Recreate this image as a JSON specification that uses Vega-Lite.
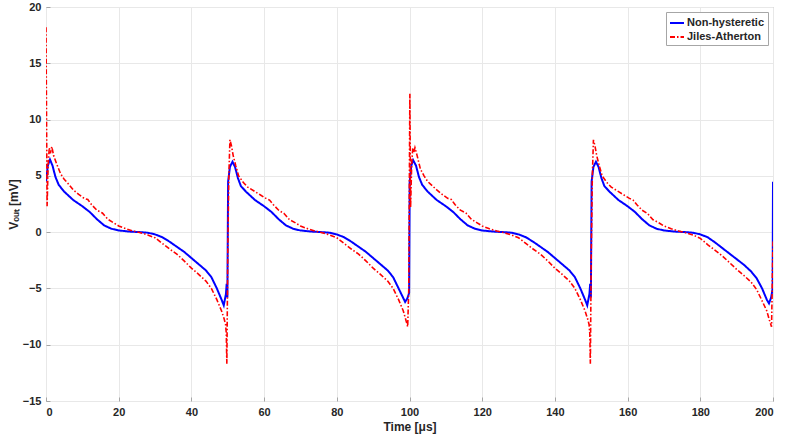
{
  "$schema": "https://vega.github.io/schema/vega-lite/v6.json",
  "description": "Output voltage of the non-hysteretic and Jiles-Atherton models over 200 microseconds.",
  "width": 727,
  "height": 394,
  "autosize": {"type": "none"},
  "padding": {"left": 46, "top": 7, "right": 14, "bottom": 40},
  "background": "white",
  "config": {
    "font": "Liberation Sans",
    "view": {"stroke": "#a6a6a6", "strokeWidth": 1},
    "axis": {
      "domain": false,
      "grid": true,
      "gridColor": "#e8e8e8",
      "gridWidth": 1,
      "ticks": true,
      "tickColor": "#a6a6a6",
      "tickSize": -4,
      "labelFont": "Liberation Sans",
      "labelFontSize": 11,
      "labelFontWeight": "bold",
      "labelColor": "#262626",
      "titleFont": "Liberation Sans",
      "titleFontSize": 12,
      "titleFontWeight": "bold",
      "titleColor": "#262626"
    },
    "legend": {
      "orient": "top-right",
      "offset": 5,
      "title": null,
      "fillColor": "white",
      "strokeColor": "#a6a6a6",
      "padding": 3,
      "rowPadding": 1,
      "labelFont": "Liberation Sans",
      "labelFontSize": 11,
      "labelFontWeight": "bold",
      "labelColor": "#262626",
      "symbolType": "stroke",
      "symbolSize": 196,
      "symbolStrokeWidth": 1.8,
      "labelOffset": 2
    }
  },
  "datasets": {
    "nonhyst": [
      {"t": 0, "v": 4.5}, {"t": 0.5, "v": 5.9}, {"t": 1.1, "v": 6.45}, {"t": 1.8, "v": 5.9},
      {"t": 2.6, "v": 4.9}, {"t": 3.5, "v": 4.2}, {"t": 5, "v": 3.6}, {"t": 7.5, "v": 2.85},
      {"t": 10, "v": 2.3}, {"t": 12, "v": 1.8}, {"t": 14, "v": 1.15}, {"t": 16, "v": 0.6},
      {"t": 18, "v": 0.3}, {"t": 20, "v": 0.15}, {"t": 23, "v": 0.05}, {"t": 26, "v": 0},
      {"t": 28, "v": -0.05}, {"t": 30, "v": -0.2}, {"t": 32, "v": -0.45}, {"t": 34, "v": -0.85},
      {"t": 36, "v": -1.3}, {"t": 38, "v": -1.75}, {"t": 40, "v": -2.3}, {"t": 42, "v": -2.85},
      {"t": 44, "v": -3.4}, {"t": 45.5, "v": -4.0}, {"t": 47, "v": -5.0}, {"t": 48.3, "v": -6.0},
      {"t": 48.9, "v": -6.5}, {"t": 49.5, "v": -5.5}, {"t": 49.7, "v": -4.6}, {"t": 49.9, "v": -5.8},
      {"t": 50.1, "v": 4.5}, {"t": 50.6, "v": 5.8}, {"t": 51.3, "v": 6.25}, {"t": 52, "v": 5.8},
      {"t": 52.8, "v": 4.8}, {"t": 53.6, "v": 4.1}, {"t": 55, "v": 3.6}, {"t": 57.5, "v": 2.85},
      {"t": 60, "v": 2.3}, {"t": 62, "v": 1.8}, {"t": 64, "v": 1.15}, {"t": 66, "v": 0.6},
      {"t": 68, "v": 0.3}, {"t": 70, "v": 0.15}, {"t": 73, "v": 0.05}, {"t": 76, "v": 0},
      {"t": 78, "v": -0.05}, {"t": 80, "v": -0.2}, {"t": 82, "v": -0.45}, {"t": 84, "v": -0.85},
      {"t": 86, "v": -1.3}, {"t": 88, "v": -1.75}, {"t": 90, "v": -2.3}, {"t": 92, "v": -2.85},
      {"t": 94, "v": -3.4}, {"t": 95.5, "v": -4.0}, {"t": 97, "v": -5.0}, {"t": 98.2, "v": -5.8},
      {"t": 98.8, "v": -6.2}, {"t": 99.4, "v": -5.9}, {"t": 99.9, "v": -5.4},
      {"t": 100.05, "v": 4.5}, {"t": 100.5, "v": 5.9}, {"t": 101.0, "v": 6.4}, {"t": 101.8, "v": 5.9},
      {"t": 102.6, "v": 4.9}, {"t": 103.5, "v": 4.2}, {"t": 105, "v": 3.6}, {"t": 107.5, "v": 2.85},
      {"t": 110, "v": 2.3}, {"t": 112, "v": 1.8}, {"t": 114, "v": 1.15}, {"t": 116, "v": 0.6},
      {"t": 118, "v": 0.3}, {"t": 120, "v": 0.15}, {"t": 123, "v": 0.05}, {"t": 126, "v": 0},
      {"t": 128, "v": -0.05}, {"t": 130, "v": -0.2}, {"t": 132, "v": -0.45}, {"t": 134, "v": -0.85},
      {"t": 136, "v": -1.3}, {"t": 138, "v": -1.75}, {"t": 140, "v": -2.3}, {"t": 142, "v": -2.85},
      {"t": 144, "v": -3.4}, {"t": 145.5, "v": -4.0}, {"t": 147, "v": -5.0}, {"t": 148.3, "v": -6.0},
      {"t": 148.9, "v": -6.5}, {"t": 149.5, "v": -5.5}, {"t": 149.7, "v": -4.6}, {"t": 149.9, "v": -5.8},
      {"t": 150.1, "v": 4.5}, {"t": 150.6, "v": 5.8}, {"t": 151.3, "v": 6.25}, {"t": 152, "v": 5.8},
      {"t": 152.8, "v": 4.8}, {"t": 153.6, "v": 4.1}, {"t": 155, "v": 3.6}, {"t": 157.5, "v": 2.85},
      {"t": 160, "v": 2.3}, {"t": 162, "v": 1.8}, {"t": 164, "v": 1.15}, {"t": 166, "v": 0.6},
      {"t": 168, "v": 0.3}, {"t": 170, "v": 0.15}, {"t": 173, "v": 0.05}, {"t": 176, "v": 0},
      {"t": 178, "v": -0.05}, {"t": 180, "v": -0.2}, {"t": 182, "v": -0.45}, {"t": 184, "v": -0.9},
      {"t": 186, "v": -1.4}, {"t": 188, "v": -1.9}, {"t": 190, "v": -2.4}, {"t": 192, "v": -2.9},
      {"t": 194, "v": -3.5}, {"t": 195.5, "v": -4.1}, {"t": 197, "v": -5.0}, {"t": 198.3, "v": -6.0},
      {"t": 198.9, "v": -6.33}, {"t": 199.5, "v": -5.8}, {"t": 199.9, "v": -5.0}, {"t": 200, "v": 4.47}
    ],
    "jiles": [
      {"t": 0, "v": 18.2}, {"t": 0.15, "v": 10}, {"t": 0.3, "v": 2.3}, {"t": 0.6, "v": 6.0},
      {"t": 0.9, "v": 7.5}, {"t": 1.2, "v": 7.0}, {"t": 1.6, "v": 7.6}, {"t": 2.1, "v": 6.8},
      {"t": 3, "v": 6.0}, {"t": 4, "v": 5.2}, {"t": 5, "v": 4.7}, {"t": 6, "v": 4.35},
      {"t": 7.5, "v": 3.75}, {"t": 9, "v": 3.35}, {"t": 10.5, "v": 3.0}, {"t": 11.5, "v": 2.9},
      {"t": 12.5, "v": 2.45}, {"t": 14, "v": 1.95}, {"t": 15.5, "v": 1.7}, {"t": 17, "v": 1.15},
      {"t": 18.5, "v": 0.85}, {"t": 20, "v": 0.55}, {"t": 22, "v": 0.3}, {"t": 24, "v": 0.1},
      {"t": 26, "v": -0.05}, {"t": 28, "v": -0.25}, {"t": 30, "v": -0.5}, {"t": 32, "v": -1.0},
      {"t": 34, "v": -1.5}, {"t": 36, "v": -1.95}, {"t": 38, "v": -2.55}, {"t": 40, "v": -3.2},
      {"t": 42, "v": -3.75}, {"t": 44, "v": -4.35}, {"t": 45.5, "v": -5.0}, {"t": 47, "v": -6.0},
      {"t": 48.3, "v": -7.0}, {"t": 49, "v": -7.7}, {"t": 49.4, "v": -8.2}, {"t": 49.6, "v": -9.0},
      {"t": 49.75, "v": -11.7}, {"t": 49.85, "v": -8.0},
      {"t": 50.0, "v": -2.0}, {"t": 50.3, "v": 5.0}, {"t": 50.6, "v": 8.2}, {"t": 51.0, "v": 7.7},
      {"t": 51.5, "v": 6.8}, {"t": 52.2, "v": 5.9}, {"t": 53, "v": 5.0}, {"t": 54.3, "v": 4.4},
      {"t": 55.5, "v": 4.0}, {"t": 57.5, "v": 3.6}, {"t": 59, "v": 3.3}, {"t": 60.5, "v": 3.0},
      {"t": 61.5, "v": 2.85}, {"t": 62.5, "v": 2.45}, {"t": 64, "v": 1.95}, {"t": 65.5, "v": 1.65},
      {"t": 67, "v": 1.1}, {"t": 68.5, "v": 0.85}, {"t": 70, "v": 0.55}, {"t": 72, "v": 0.3},
      {"t": 74, "v": 0.1}, {"t": 76, "v": -0.05}, {"t": 78, "v": -0.25}, {"t": 80, "v": -0.5},
      {"t": 82, "v": -1.0}, {"t": 84, "v": -1.5}, {"t": 86, "v": -1.95}, {"t": 88, "v": -2.55},
      {"t": 90, "v": -3.2}, {"t": 92, "v": -3.75}, {"t": 94, "v": -4.35}, {"t": 95.5, "v": -5.0},
      {"t": 97, "v": -6.0}, {"t": 98.3, "v": -7.0}, {"t": 99, "v": -7.8}, {"t": 99.5, "v": -8.4},
      {"t": 99.8, "v": -5.0},
      {"t": 100.1, "v": 12.3}, {"t": 100.2, "v": 7.0}, {"t": 100.3, "v": 2.2}, {"t": 100.6, "v": 6.0},
      {"t": 100.9, "v": 7.5}, {"t": 101.2, "v": 7.1}, {"t": 101.5, "v": 7.5}, {"t": 102.1, "v": 6.8},
      {"t": 103, "v": 5.6}, {"t": 104, "v": 5.0}, {"t": 105, "v": 4.5}, {"t": 106, "v": 4.2},
      {"t": 107.5, "v": 3.75}, {"t": 109, "v": 3.35}, {"t": 110.5, "v": 3.0}, {"t": 111.5, "v": 2.9},
      {"t": 112.5, "v": 2.45}, {"t": 114, "v": 1.95}, {"t": 115.5, "v": 1.7}, {"t": 117, "v": 1.15},
      {"t": 118.5, "v": 0.85}, {"t": 120, "v": 0.55}, {"t": 122, "v": 0.3}, {"t": 124, "v": 0.1},
      {"t": 126, "v": -0.05}, {"t": 128, "v": -0.25}, {"t": 130, "v": -0.5}, {"t": 132, "v": -1.0},
      {"t": 134, "v": -1.5}, {"t": 136, "v": -1.95}, {"t": 138, "v": -2.55}, {"t": 140, "v": -3.2},
      {"t": 142, "v": -3.75}, {"t": 144, "v": -4.35}, {"t": 145.5, "v": -5.0}, {"t": 147, "v": -6.0},
      {"t": 148.3, "v": -7.0}, {"t": 149, "v": -7.7}, {"t": 149.4, "v": -8.2}, {"t": 149.6, "v": -9.0},
      {"t": 149.75, "v": -11.7}, {"t": 149.85, "v": -8.0},
      {"t": 150.0, "v": -2.0}, {"t": 150.3, "v": 5.0}, {"t": 150.6, "v": 8.2}, {"t": 151.0, "v": 7.7},
      {"t": 151.5, "v": 6.8}, {"t": 152.2, "v": 5.9}, {"t": 153, "v": 5.0}, {"t": 154.3, "v": 4.4},
      {"t": 155.5, "v": 4.0}, {"t": 157.5, "v": 3.6}, {"t": 159, "v": 3.3}, {"t": 160.5, "v": 3.0},
      {"t": 161.5, "v": 2.85}, {"t": 162.5, "v": 2.45}, {"t": 164, "v": 1.95}, {"t": 165.5, "v": 1.65},
      {"t": 167, "v": 1.1}, {"t": 168.5, "v": 0.85}, {"t": 170, "v": 0.55}, {"t": 172, "v": 0.3},
      {"t": 174, "v": 0.1}, {"t": 176, "v": -0.05}, {"t": 178, "v": -0.25}, {"t": 180, "v": -0.55},
      {"t": 182, "v": -1.1}, {"t": 184, "v": -1.6}, {"t": 186, "v": -2.1}, {"t": 188, "v": -2.7},
      {"t": 190, "v": -3.3}, {"t": 192, "v": -3.85}, {"t": 194, "v": -4.45}, {"t": 195.5, "v": -5.1},
      {"t": 197, "v": -6.1}, {"t": 198.3, "v": -7.0}, {"t": 199, "v": -7.8}, {"t": 199.6, "v": -8.4},
      {"t": 200, "v": -0.7}
    ]
  },
  "encoding": {
    "x": {
      "field": "t",
      "type": "quantitative",
      "title": "Time [μs]",
      "scale": {"domain": [0, 200], "nice": false},
      "axis": {"values": [0, 20, 40, 60, 80, 100, 120, 140, 160, 180, 200], "labelPadding": 9, "titlePadding": 4}
    },
    "y": {
      "field": "v",
      "type": "quantitative",
      "title": "Vₒᵤₜ [mV]",
      "scale": {"domain": [-15, 20], "nice": false, "zero": false},
      "axis": {"values": [-15, -10, -5, 0, 5, 10, 15, 20], "labelPadding": 9, "titlePadding": 2}
    }
  },
  "layer": [
    {
      "data": {"name": "nonhyst"},
      "mark": {"type": "line", "strokeWidth": 2, "clip": true},
      "encoding": {
        "color": {
          "datum": "Non-hysteretic",
          "scale": {"domain": ["Non-hysteretic", "Jiles-Atherton"], "range": ["#0000ff", "#ff0000"]}
        },
        "strokeDash": {
          "datum": "Non-hysteretic",
          "scale": {"domain": ["Non-hysteretic", "Jiles-Atherton"], "range": [[1, 0], [5, 2, 1.5, 2]]}
        }
      }
    },
    {
      "data": {"name": "jiles"},
      "mark": {"type": "line", "strokeWidth": 1.6, "clip": true},
      "encoding": {
        "color": {"datum": "Jiles-Atherton"},
        "strokeDash": {"datum": "Jiles-Atherton"}
      }
    }
  ]
}
